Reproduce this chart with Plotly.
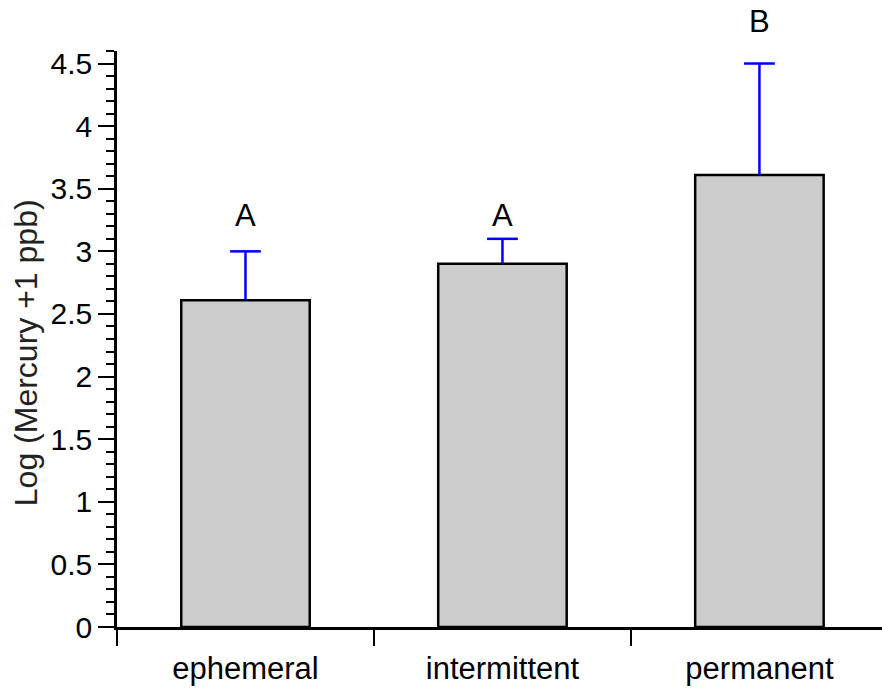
import plotly.graph_objects as go

# Stream permanence classes and log-transformed mercury means with upper error
categories = ["ephemeral", "intermittent", "permanent"]
means = [2.61, 2.90, 3.61]
errors = [0.39, 0.20, 0.89]
group_letters = ["A", "A", "B"]

# vertical placement (paper fraction) of the significance letters
letter_pos = [0.681, 0.681, 1.017]

FONT = "Arial, Liberation Sans, sans-serif"

fig = go.Figure()

fig.add_trace(go.Bar(
    x=categories,
    y=means,
    width=0.5,
    marker=dict(color="#cccccc", line=dict(color="black", width=2.5)),
    showlegend=False,
))

# Upper-only error bars: stems from bar top plus a horizontal cap
tops = [m + e for m, e in zip(means, errors)]
stem_x, stem_y = [], []
for c, m, t in zip(categories, means, tops):
    stem_x += [c, c, None]
    stem_y += [m, t, None]

fig.add_trace(go.Scatter(
    x=stem_x, y=stem_y, mode="lines",
    line=dict(color="#0000ff", width=2.5),
    showlegend=False, hoverinfo="skip", cliponaxis=False,
))
fig.add_trace(go.Scatter(
    x=categories, y=tops, mode="markers",
    marker=dict(symbol="line-ew", size=22,
                line=dict(color="#0000ff", width=2.5)),
    showlegend=False, hoverinfo="skip", cliponaxis=False,
))

for c, letter, ly in zip(categories, group_letters, letter_pos):
    fig.add_annotation(
        x=c, y=ly, xref="x", yref="paper", text=letter, showarrow=False,
        xanchor="center", yanchor="bottom",
        font=dict(family=FONT, size=31, color="black"),
    )

fig.add_annotation(
    xref="paper", yref="paper", x=-0.119, y=0.477,
    xanchor="center", yanchor="middle",
    text="Log (Mercury +1 ppb)", textangle=-90, showarrow=False,
    font=dict(family=FONT, size=32, color="#222222"),
)

fig.update_layout(
    width=882, height=691,
    margin=dict(l=117, r=0, t=51, b=64, pad=0),
    plot_bgcolor="white", paper_bgcolor="white",
    font=dict(family=FONT, color="black"),
    bargap=0.5,
)

fig.update_xaxes(
    type="category",
    range=[-0.5, 2.477],
    showline=True, linecolor="black", linewidth=2.5,
    ticks="outside", tickson="boundaries", ticklen=16, tickwidth=1.5,
    tickcolor="black", ticklabelstandoff=12,
    tickfont=dict(family=FONT, size=31, color="black"),
    showgrid=False, zeroline=False,
)

fig.update_yaxes(
    range=[0, 4.6],
    dtick=0.5, tick0=0,
    showline=True, linecolor="black", linewidth=2.5,
    ticks="outside", ticklen=16, tickwidth=1.5, tickcolor="black",
    minor=dict(dtick=0.1, ticks="outside", ticklen=8, tickwidth=1.5,
               tickcolor="black"),
    tickfont=dict(family=FONT, size=30, color="black"),
    showgrid=False, zeroline=False,
)

fig.write_html("out.html")
